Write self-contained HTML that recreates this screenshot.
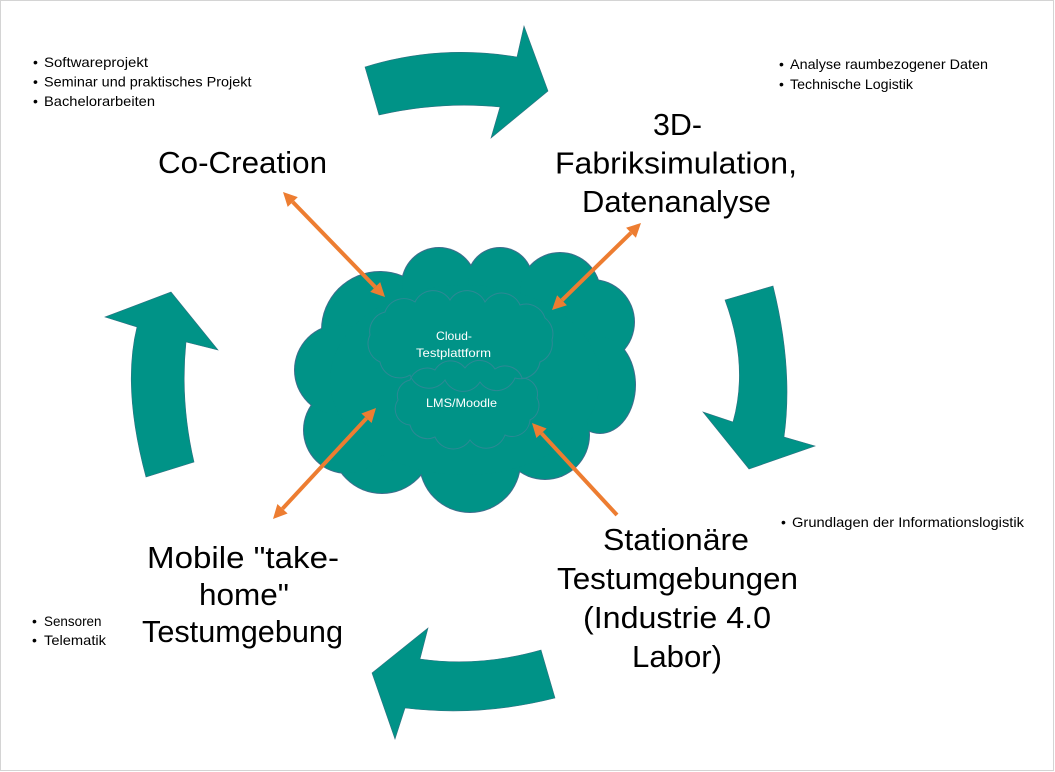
<!DOCTYPE html>
<html>
<head>
<meta charset="utf-8">
<style>
  html, body { margin:0; padding:0; background:#ffffff; }
  body { width:1055px; height:772px; overflow:hidden; }
  svg { display:block; }
  text { font-family: "Liberation Sans", "DejaVu Sans", sans-serif; }
</style>
</head>
<body>
<svg width="1055" height="772" viewBox="0 0 1055 772" xmlns="http://www.w3.org/2000/svg">
  <rect x="0" y="0" width="1055" height="772" fill="#ffffff"/>
  <rect x="0.5" y="0.5" width="1053" height="770" fill="none" stroke="#d4d4d4" stroke-width="1"/>

  <!-- teal circular arrows -->
  <g fill="#009387" stroke="#2f7080" stroke-width="0.6">
    <path d="M365,67 Q439,44 517,57 L524,26 L548,91 L491,138 L500,107 Q440.5,101 379,115 Z"/>
    <path d="M725,300 L773,286 Q793.5,368.5 784,437 L815,446 L749,469 L703,412 L733,422 Q749,365 725,300 Z"/>
    <path d="M541,650 Q479.5,667.5 420,659 L428,628 L372,673 L395,739 L405,708 Q480,717 555,698 Z"/>
    <path d="M146,477 Q122,388 137,327 L105,317 L171,292 L218,350 L186,342 Q180,402 194,462 Z"/>
  </g>

  <!-- big cloud: outline layer -->
  <g fill="#3d6d8c">
    <circle cx="380" cy="330" r="59"/>
    <circle cx="439" cy="285" r="38"/>
    <circle cx="500" cy="280" r="33"/>
    <circle cx="560" cy="293" r="41"/>
    <circle cx="592" cy="322" r="43"/>
    <ellipse cx="600" cy="385" rx="36" ry="49"/>
    <circle cx="545" cy="435" r="45"/>
    <circle cx="470" cy="462" r="51"/>
    <circle cx="382" cy="443" r="51"/>
    <circle cx="347" cy="430" r="44"/>
    <circle cx="340" cy="370" r="46"/>
  </g>
  <g fill="#009387">
    <circle cx="380" cy="330" r="58"/>
    <circle cx="439" cy="285" r="37"/>
    <circle cx="500" cy="280" r="32"/>
    <circle cx="560" cy="293" r="40"/>
    <circle cx="592" cy="322" r="42"/>
    <ellipse cx="600" cy="385" rx="35" ry="48"/>
    <circle cx="545" cy="435" r="44"/>
    <circle cx="470" cy="462" r="50"/>
    <circle cx="382" cy="443" r="50"/>
    <circle cx="347" cy="430" r="43"/>
    <circle cx="340" cy="370" r="45"/>
    <ellipse cx="465" cy="380" rx="135" ry="95"/>
  </g>

  <!-- inner cloud outlines -->
  <g fill="none" stroke="#5a7fa3" stroke-width="1" opacity="0.5">
    <path d="M370,335 A20,20 0 0 1 385,312 A20,20 0 0 1 415,302 A20,20 0 0 1 450,300 A20,20 0 0 1 485,302 A20,20 0 0 1 520,305 A20,20 0 0 1 545,318 A20,20 0 0 1 552,340 A20,20 0 0 1 540,362 A20,20 0 0 1 515,378 A20,20 0 0 1 480,382 A20,20 0 0 1 445,380 A20,20 0 0 1 410,375 A20,20 0 0 1 380,362 A20,20 0 0 1 370,335 Z"/>
    <path d="M398,400 A16,16 0 0 1 410,380 A18,18 0 0 1 435,370 A18,18 0 0 1 465,368 A18,18 0 0 1 495,369 A18,18 0 0 1 522,378 A16,16 0 0 1 537,398 A16,16 0 0 1 530,420 A18,18 0 0 1 505,435 A20,20 0 0 1 470,440 A20,20 0 0 1 435,437 A18,18 0 0 1 410,425 A16,16 0 0 1 398,400 Z"/>
  </g>

  <!-- cloud labels -->
  <g fill="#ffffff" font-size="12">
    <text x="436" y="340" textLength="36" lengthAdjust="spacingAndGlyphs">Cloud-</text>
    <text x="416" y="357" textLength="75" lengthAdjust="spacingAndGlyphs">Testplattform</text>
    <text x="426" y="407" textLength="71" lengthAdjust="spacingAndGlyphs">LMS/Moodle</text>
  </g>

  <!-- orange connectors -->
  <g stroke="#ed7d31" stroke-width="4" fill="none">
    <line x1="292.8" y1="202" x2="375.2" y2="287"/>
    <line x1="631" y1="232.8" x2="562" y2="300.2"/>
    <line x1="366.5" y1="418.3" x2="282.5" y2="508.7"/>
    <line x1="617" y1="515" x2="541.5" y2="433.3"/>
  </g>
  <g fill="#ed7d31">
    <polygon points="385,297 370.2,291.9 380.2,282.1"/>
    <polygon points="283,192 287.7,206.9 297.8,197.1"/>
    <polygon points="552,310 557.1,295.2 566.9,305.2"/>
    <polygon points="641,223 626.1,227.8 635.9,237.8"/>
    <polygon points="376,408 361.4,413.5 371.6,423"/>
    <polygon points="273,519 277.4,504 287.6,513.5"/>
    <polygon points="532,423 546.6,428.5 536.4,438"/>
  </g>

  <!-- big labels -->
  <g fill="#000000" font-size="31">
    <text x="158" y="173" textLength="169" lengthAdjust="spacingAndGlyphs">Co-Creation</text>

    <text x="653" y="135" textLength="49" lengthAdjust="spacingAndGlyphs">3D-</text>
    <text x="555" y="173.5" textLength="242" lengthAdjust="spacingAndGlyphs">Fabriksimulation,</text>
    <text x="582" y="212" textLength="189" lengthAdjust="spacingAndGlyphs">Datenanalyse</text>

    <text x="603" y="550" textLength="146" lengthAdjust="spacingAndGlyphs">Stationäre</text>
    <text x="557" y="589" textLength="241" lengthAdjust="spacingAndGlyphs">Testumgebungen</text>
    <text x="583" y="628" textLength="188" lengthAdjust="spacingAndGlyphs">(Industrie 4.0</text>
    <text x="632" y="667" textLength="90" lengthAdjust="spacingAndGlyphs">Labor)</text>

    <text x="147" y="568" textLength="192" lengthAdjust="spacingAndGlyphs">Mobile "take-</text>
    <text x="199" y="605" textLength="90" lengthAdjust="spacingAndGlyphs">home"</text>
    <text x="142" y="642" textLength="201" lengthAdjust="spacingAndGlyphs">Testumgebung</text>
  </g>

  <!-- bullet lists -->
  <g fill="#000000" font-size="14">
    <text x="33" y="67">•</text>
    <text x="44" y="67" textLength="104" lengthAdjust="spacingAndGlyphs">Softwareprojekt</text>
    <text x="33" y="86.5">•</text>
    <text x="44" y="86.5" textLength="207.5" lengthAdjust="spacingAndGlyphs">Seminar und praktisches Projekt</text>
    <text x="33" y="106">•</text>
    <text x="44" y="106" textLength="111" lengthAdjust="spacingAndGlyphs">Bachelorarbeiten</text>

    <text x="779" y="69">•</text>
    <text x="790" y="69" textLength="198" lengthAdjust="spacingAndGlyphs">Analyse raumbezogener Daten</text>
    <text x="779" y="89">•</text>
    <text x="790" y="89" textLength="123" lengthAdjust="spacingAndGlyphs">Technische Logistik</text>

    <text x="781" y="527">•</text>
    <text x="792" y="527" textLength="232" lengthAdjust="spacingAndGlyphs">Grundlagen der Informationslogistik</text>

    <text x="32" y="626">•</text>
    <text x="44" y="626" textLength="57.5" lengthAdjust="spacingAndGlyphs">Sensoren</text>
    <text x="32" y="645">•</text>
    <text x="44" y="645" textLength="62" lengthAdjust="spacingAndGlyphs">Telematik</text>
  </g>
</svg>
</body>
</html>
